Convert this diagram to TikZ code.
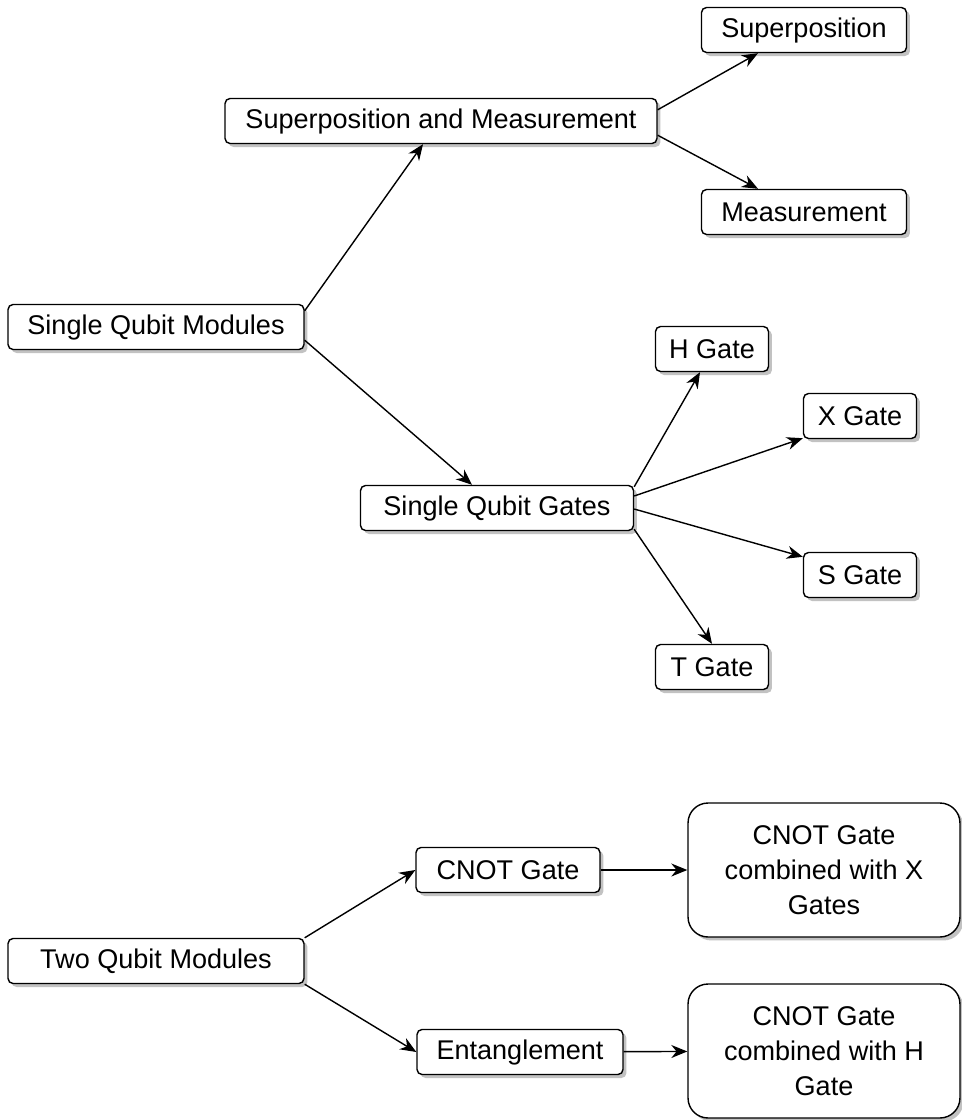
\documentclass[tikz,border=0pt]{standalone}
\usepackage{fontspec}
\setmainfont{Liberation Sans}
\usetikzlibrary{calc,arrows.meta,shadows}

\begin{document}
\begin{tikzpicture}[
        x=0.02cm, y=-0.02cm,
        font=\fontsize{15.4}{20}\selectfont,
        box/.style={draw, line width=0.8pt, rounded corners=0.1cm, align=center, fill=white,
            minimum height=0.9cm, inner sep=0pt,
            drop shadow={shadow xshift=0.07cm, shadow yshift=-0.07cm, fill=black!40, opacity=0.6}},
        bigbox/.style={box, rounded corners=0.4cm, minimum height=2.68cm, minimum width=5.44cm},
        link/.style={->, line width=0.8pt},
        >={Stealth[length=0.32cm, width=0.26cm]}
    ]
    \useasboundingbox (0,0) rectangle (961,1120);

    % single qubit part
    \node[box, minimum width=5.92cm] (sqm) at (156,327) {Single Qubit Modules};
    \node[box, minimum width=8.64cm] (sam) at (441,121) {Superposition and Measurement};
    \node[box, minimum width=4.1cm] (sup) at (804,30) {Superposition};
    \node[box, minimum width=4.1cm] (meas) at (804,212) {Measurement};
    \node[box, minimum width=5.46cm] (sqg) at (497,508) {Single Qubit Gates};
    \node[box, minimum width=2.26cm] (hg) at (712,349) {H Gate};
    \node[box, minimum width=2.26cm] (xg) at (860,416) {X Gate};
    \node[box, minimum width=2.26cm] (sg) at (860,575) {S Gate};
    \node[box, minimum width=2.26cm] (tg) at (712,667) {T Gate};

    % two qubit part
    \node[box, minimum width=5.92cm] (tqm) at (156,961) {Two Qubit Modules};
    \node[box, minimum width=3.68cm] (cnot) at (508,870) {CNOT Gate};
    \node[box, minimum width=4.12cm] (ent) at (520,1052) {Entanglement};
    \node[bigbox] (cx) at (824,870) {CNOT Gate\\combined with X\\Gates};
    \node[bigbox] (ch) at (824,1051) {CNOT Gate\\combined with H\\Gate};

    \draw[link] ($(sqm.north east)+(0,7)$) -- ($(sam.south)+(-18,0)$);
    \draw[link] ($(sqm.south east)+(0,-10)$) -- ($(sqg.north)+(-25,0)$);
    \draw[link] ($(sam.north east)+(0,12)$) -- ($(sup.south)+(-46,0)$);
    \draw[link] ($(sam.south east)+(0,-9)$) -- ($(meas.north)+(-46,0)$);
    \draw[link] ($(sqg.north east)+(0,2)$) -- ($(hg.south)+(-12,0)$);
    \draw[link] ($(sqg.east)+(0,-12)$) -- ($(xg.south west)+(0,-1)$);
    \draw[link] ($(sqg.east)+(0,1)$) -- ($(sg.north west)+(0,5)$);
    \draw[link] ($(sqg.south east)+(0,-2)$) -- (tg.north);
    \draw[link] (tqm.north east) -- (cnot.west);
    \draw[link] (tqm.south east) -- (ent.west);
    \draw[link] (cnot) -- (cx);
    \draw[link] (ent) -- (ch);
\end{tikzpicture}
\end{document}
